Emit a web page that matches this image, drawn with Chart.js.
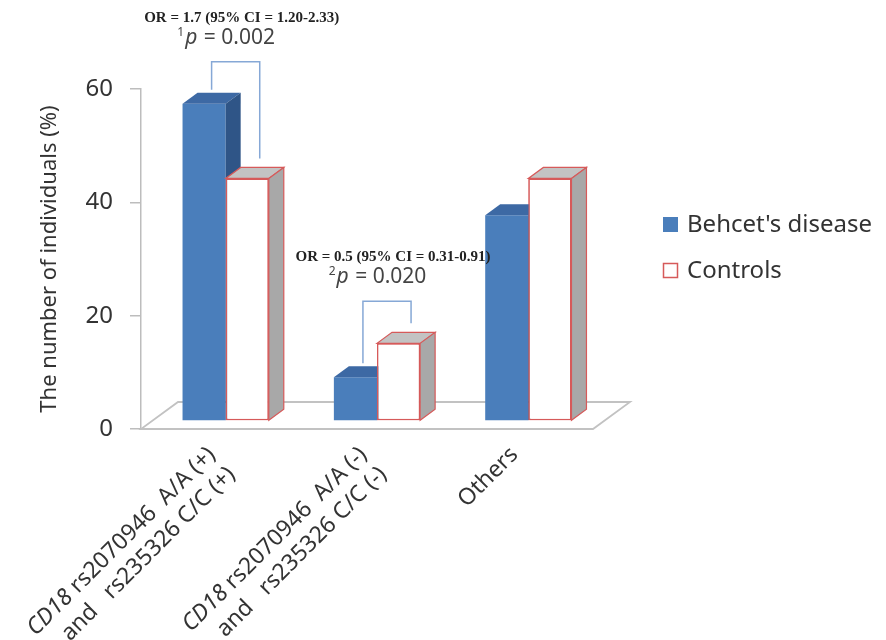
<!DOCTYPE html>
<html>
<head>
<meta charset="utf-8">
<title>CD18 genotype combinations</title>
<script src="https://cdn.jsdelivr.net/npm/chart.js@4/dist/chart.umd.min.js"></script>
<style>
  body { margin: 0; background: #fff; }
  canvas { display: block; }
</style>
</head>
<body>
<canvas id="genotypeChart" width="886" height="640"></canvas>
<script>
// Genotype groups, one entry per line of the rotated axis label
const categories = [
  ["CD18 rs2070946  A/A (+)", "and   rs235326 C/C (+)"],
  ["CD18 rs2070946  A/A (-)", "and   rs235326 C/C (-)"],
  ["Others"],
];
const seriesNames = ["Behcet's disease", "Controls"];
const behcetValues = [56.0, 7.7, 36.3];
const controlValues = [42.8, 13.7, 42.8];
const yTicks = [0, 20, 40, 60];

// OR / p-value brackets drawn over a group
const comparisons = [
  { group: 0, or: "OR = 1.7 (95% CI = 1.20-2.33)", mark: "1", p: "0.002" },
  { group: 1, or: "OR = 0.5 (95% CI = 0.31-0.91)", mark: "2", p: "0.020" },
];

const FONT = "'Noto Sans', 'DejaVu Sans', sans-serif";
const TEXT = "#333333";

// 3D look: bars sit slightly behind the axis plane, with a top and side face
const SHIFT_X = 9, SHIFT_Y = -8;
const DEPTH_X = 15, DEPTH_Y = 11;
const FLOOR_X = 37, FLOOR_Y = 27;

const faceStyles = [
  { top: "#3d69a4", side: "#2f5587", edge: null },
  { top: "#c3c3c3", side: "#a8a8a8", edge: "#d65a5a" },
];

function face(ctx, pts, fill, stroke) {
  ctx.beginPath();
  ctx.moveTo(pts[0][0], pts[0][1]);
  for (let i = 1; i < pts.length; i++) ctx.lineTo(pts[i][0], pts[i][1]);
  ctx.closePath();
  ctx.fillStyle = fill;
  ctx.fill();
  if (stroke) {
    ctx.strokeStyle = stroke;
    ctx.lineWidth = 1.2;
    ctx.stroke();
  }
}

function drawBox(ctx, bar, style) {
  const { x, y, base, width } = bar.getProps(["x", "y", "base", "width"], true);
  const l = x - width / 2, r = x + width / 2;
  face(ctx, [[l, y], [r, y], [r + DEPTH_X, y - DEPTH_Y], [l + DEPTH_X, y - DEPTH_Y]], style.top, style.edge);
  face(ctx, [[r, y], [r + DEPTH_X, y - DEPTH_Y], [r + DEPTH_X, base - DEPTH_Y], [r, base]], style.side, style.edge);
}

const bars3d = {
  id: "bars3d",
  beforeDatasetsDraw(chart) {
    const { ctx, chartArea: a } = chart;
    // floor
    ctx.save();
    ctx.strokeStyle = "#c2c2c2";
    ctx.lineWidth = 1.8;
    ctx.beginPath();
    ctx.moveTo(a.left, a.bottom);
    ctx.lineTo(a.right - 2, a.bottom);
    ctx.lineTo(a.right - 2 + FLOOR_X, a.bottom - FLOOR_Y);
    ctx.lineTo(a.left + FLOOR_X, a.bottom - FLOOR_Y);
    ctx.closePath();
    ctx.stroke();
    ctx.restore();

    ctx.save();
    ctx.translate(SHIFT_X, SHIFT_Y);
  },
  afterDatasetsDraw(chart) {
    const ctx = chart.ctx;
    const front = chart.getDatasetMeta(0).data;
    const back = chart.getDatasetMeta(1).data;
    front.forEach((bar, i) => {
      drawBox(ctx, bar, faceStyles[0]);
      back[i].draw(ctx); // controls bar goes over the blue side face
      drawBox(ctx, back[i], faceStyles[1]);
    });
    ctx.restore();
  },
};

// Rotated category labels, gene name in italics
const LABEL_DX = -13, LABEL_DY = 14, LABEL_LINE = 28;
const labelFont = (italic) => `${italic ? "italic " : ""}23px ${FONT}`;

const categoryLabels = {
  id: "categoryLabels",
  afterDraw(chart) {
    const { ctx, chartArea } = chart;
    const xScale = chart.scales.x;
    categories.forEach((lines, i) => {
      ctx.save();
      ctx.translate(xScale.getPixelForTick(i) + LABEL_DX, chartArea.bottom + LABEL_DY);
      ctx.rotate(-Math.PI / 4);
      ctx.fillStyle = TEXT;
      ctx.textBaseline = "top";
      ctx.textAlign = "left";
      lines.forEach((line, j) => {
        const parts = line.startsWith("CD18 ")
          ? [["CD18", true], [line.slice(4), false]]
          : [[line, false]];
        let total = 0;
        parts.forEach(([t, it]) => { ctx.font = labelFont(it); total += ctx.measureText(t).width; });
        let cx = -total;
        parts.forEach(([t, it]) => {
          ctx.font = labelFont(it);
          ctx.fillText(t, cx, j * LABEL_LINE);
          cx += ctx.measureText(t).width;
        });
      });
      ctx.restore();
    });
  },
};

// Brackets with odds ratio and p value
const significance = {
  id: "significance",
  afterDraw(chart) {
    const ctx = chart.ctx;
    const front = chart.getDatasetMeta(0).data;
    const back = chart.getDatasetMeta(1).data;
    comparisons.forEach((c) => {
      const a = front[c.group], b = back[c.group];
      const xa = a.x + SHIFT_X + DEPTH_X / 2;
      const xb = b.x + SHIFT_X + DEPTH_X / 2 + 5;
      const topA = a.y + SHIFT_Y - DEPTH_Y;
      const topB = b.y + SHIFT_Y - DEPTH_Y;
      const hy = Math.min(topA, topB) - 31;

      ctx.save();
      ctx.strokeStyle = "#86a8d6";
      ctx.lineWidth = 1.5;
      ctx.beginPath();
      ctx.moveTo(xa, topA - 3);
      ctx.lineTo(xa, hy);
      ctx.lineTo(xb, hy);
      ctx.lineTo(xb, topB - 9);
      ctx.stroke();

      const cx = (xa + xb) / 2;
      ctx.fillStyle = "#222";
      ctx.font = `bold 15px 'Liberation Serif', serif`;
      ctx.textAlign = "center";
      ctx.textBaseline = "middle";
      ctx.fillText(c.or, cx + 6, hy - 44);

      const parts = [
        [c.mark, `12px ${FONT}`, -8],
        ["p", `italic 21px ${FONT}`, 0],
        [" = " + c.p, `21px ${FONT}`, 0],
      ];
      let total = 0;
      parts.forEach(([t, f]) => { ctx.font = f; total += ctx.measureText(t).width + 1; });
      let px = cx - 9 - total / 2;
      ctx.textAlign = "left";
      ctx.textBaseline = "alphabetic";
      ctx.fillStyle = "#444";
      parts.forEach(([t, f, dy]) => {
        ctx.font = f;
        ctx.fillText(t, px, hy - 18 + dy);
        px += ctx.measureText(t).width + 1;
      });
      ctx.restore();
    });
  },
};

// Legend on the right
const LEGEND_X = 663, LEGEND_ROWS = [225, 271];
const sideLegend = {
  id: "sideLegend",
  afterDraw(chart) {
    const ctx = chart.ctx;
    chart.data.datasets.forEach((ds, i) => {
      const y = LEGEND_ROWS[i];
      ctx.save();
      if (i === 0) {
        ctx.fillStyle = ds.backgroundColor;
        ctx.fillRect(LEGEND_X, y - 8, 15, 15);
      } else {
        ctx.strokeStyle = ds.borderColor;
        ctx.lineWidth = 1.5;
        ctx.strokeRect(LEGEND_X + 0.5, y - 7.5, 14, 14);
      }
      ctx.fillStyle = TEXT;
      ctx.font = `24px ${FONT}`;
      ctx.textBaseline = "middle";
      ctx.fillText(ds.label, LEGEND_X + 24, y);
      ctx.restore();
    });
  },
};

const ctx = document.getElementById("genotypeChart").getContext("2d");
const genotypeChart = new Chart(ctx, {
  type: "bar",
  data: {
    labels: categories,
    datasets: [
      {
        label: seriesNames[0],
        data: behcetValues,
        backgroundColor: "#4a7ebb",
        borderWidth: 0,
      },
      {
        label: seriesNames[1],
        data: controlValues,
        backgroundColor: "#ffffff",
        borderColor: "#d65a5a",
        borderWidth: 1.5,
        borderSkipped: false,
      },
    ],
  },
  options: {
    responsive: false,
    animation: false,
    datasets: {
      bar: { categoryPercentage: 0.57, barPercentage: 1.0 },
    },
    layout: {
      padding: { left: 33, top: 89, right: 291, bottom: 0 },
    },
    plugins: {
      legend: { display: false },
      tooltip: { enabled: false },
    },
    scales: {
      x: {
        grid: { display: false },
        border: { display: false },
        ticks: { display: false },
        afterFit: (scale) => { scale.height = 211; },
      },
      y: {
        min: 0,
        max: 60,
        afterBuildTicks: (scale) => { scale.ticks = yTicks.map((v) => ({ value: v })); },
        afterFit: (scale) => { scale.width = 108; },
        ticks: {
          color: TEXT,
          padding: 17,
          font: { size: 24, family: FONT },
        },
        grid: {
          drawOnChartArea: false,
          tickLength: 11,
          color: "#bdbdbd",
          lineWidth: 1.5,
        },
        border: { color: "#bdbdbd", width: 1.5 },
        title: {
          display: true,
          text: "The number of individuals (%)",
          color: TEXT,
          padding: 4,
          font: { size: 22, family: FONT },
        },
      },
    },
  },
  plugins: [bars3d, categoryLabels, significance, sideLegend],
});
</script>
</body>
</html>
